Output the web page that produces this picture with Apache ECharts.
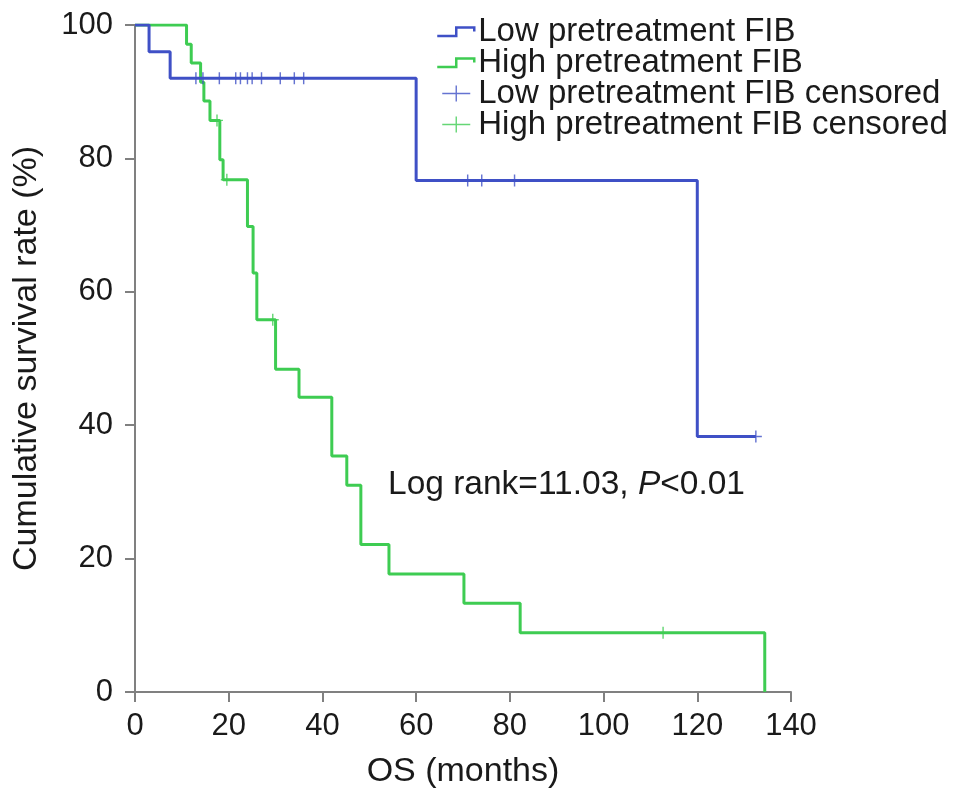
<!DOCTYPE html>
<html><head><meta charset="utf-8">
<script src="https://cdn.jsdelivr.net/npm/echarts@6/dist/echarts.min.js"></script>
<style>html,body{margin:0;padding:0;background:#fff}#c{width:969px;height:806px}</style>
</head><body><div id="c"></div>
<script>
const xTicks = [0,20,40,60,80,100,120,140];
const yTicks = [0,20,40,60,80,100];
const seriesNames = ['Low pretreatment FIB','High pretreatment FIB','Low pretreatment FIB censored','High pretreatment FIB censored'];
// Kaplan-Meier steps: [month, survival %] after each event
const lowSteps = [[0,100],[3,96],[7.5,92],[60,76.7],[120,38.3],[132.5,38.3]];
const highSteps = [[0,100],[11,97.1],[12,94.3],[14,91.4],[14.7,88.6],[16,85.7],[18.1,79.8],[18.8,76.8],[24,69.8],[25.2,62.8],[26,55.8],[30,48.4],[35,44.2],[42,35.4],[45.2,31.0],[48.2,22.1],[54.2,17.7],[70.2,13.3],[82.2,8.9],[134.4,0]];
const lowCensored = [[13,92],[14.5,92],[18,92],[21.5,92],[22.5,92],[24,92],[25,92],[27,92],[31,92],[34,92],[36,92],[71,76.7],[74,76.7],[81,76.7],[132.5,38.3]];
const highCensored = [[17.5,85.7],[19.6,76.8],[29.4,55.8],[112.7,8.9]];
const annotation = 'Log rank=11.03, ';

const blue = '#3F50C6', green = '#3ECC52';
const plus = 'path://M-0.6,-5 L0.6,-5 L0.6,5 L-0.6,5 Z M-5,-0.6 L5,-0.6 L5,0.6 L-5,0.6 Z';
const legendPlus = 'path://M0,0 L0.01,0 L0,0.01 Z M40,16 L39.99,16 L40,15.99 Z M19.3,0 L20.7,0 L20.7,16 L19.3,16 Z M6,7.3 L34,7.3 L34,8.7 L6,8.7 Z';
const stepIcon = 'path://M0,0 L0.01,0 M40,16 L39.99,16 M1,12.5 L20,12.5 L20,4 L38,4 L38,8';
const font = 'Liberation Sans, Arial, Helvetica, sans-serif';

const chart = echarts.init(document.getElementById('c'));
chart.setOption({
  animation:false,
  backgroundColor:'#fff',
  grid:{left:135,right:178,top:25,bottom:114},
  legend:{
    orient:'vertical', left:430, top:10, itemWidth:40, itemHeight:16, itemGap:-2,
    textStyle:{fontFamily:font,fontSize:33,lineHeight:31,color:'#1a1a1a',padding:[0,0,0,-3]},
    data:[
      {name:seriesNames[0],icon:stepIcon,itemStyle:{color:'rgba(0,0,0,0)',borderColor:blue,borderWidth:2.5}},
      {name:seriesNames[1],icon:stepIcon,itemStyle:{color:'rgba(0,0,0,0)',borderColor:green,borderWidth:2.5}},
      {name:seriesNames[2],icon:legendPlus,itemStyle:{color:blue,borderWidth:0}},
      {name:seriesNames[3],icon:legendPlus,itemStyle:{color:green,borderWidth:0}}
    ]
  },
  xAxis:{type:'value',min:0,max:140,interval:20,
    name:'OS (months)',nameLocation:'middle',nameGap:63,
    nameTextStyle:{fontFamily:font,fontSize:34,color:'#1a1a1a'},
    axisLine:{show:true,lineStyle:{color:'#808080',width:2}},
    axisTick:{show:true,length:10,lineStyle:{color:'#808080',width:2}},
    axisLabel:{fontFamily:font,fontSize:31,color:'#1a1a1a',margin:19,formatter:v=>xTicks.includes(v)?String(v):''},
    splitLine:{show:false}},
  yAxis:{type:'value',min:0,max:100,interval:20,
    name:'Cumulative survival rate (%)',nameLocation:'middle',nameGap:91,
    nameTextStyle:{fontFamily:font,fontSize:34,color:'#1a1a1a'},
    axisLine:{show:true,lineStyle:{color:'#808080',width:2}},
    axisTick:{show:true,length:10,lineStyle:{color:'#808080',width:2}},
    axisLabel:{fontFamily:font,fontSize:31,color:'#1a1a1a',margin:22,formatter:v=>yTicks.includes(v)?String(v):''},
    splitLine:{show:false}},
  graphic:[{type:'text',left:388,top:468,style:{
    text:'{a|'+annotation+'}{i|P}{a|<0.01}',
    rich:{a:{fontFamily:font,fontSize:33.5,fill:'#1a1a1a'},i:{fontFamily:font,fontSize:33.5,fontStyle:'italic',fill:'#1a1a1a'}}}}],
  series:[
    {name:seriesNames[0],type:'line',step:'end',data:lowSteps,showSymbol:false,symbol:'none',lineStyle:{color:blue,width:3},itemStyle:{color:blue},z:3},
    {name:seriesNames[1],type:'line',step:'end',data:highSteps,showSymbol:false,symbol:'none',lineStyle:{color:green,width:3},itemStyle:{color:green},z:2},
    {name:seriesNames[2],type:'scatter',data:lowCensored,symbol:plus,symbolSize:12,itemStyle:{color:blue},z:4},
    {name:seriesNames[3],type:'scatter',data:highCensored,symbol:plus,symbolSize:12,itemStyle:{color:green},z:4}
  ]
});
</script></body></html>
